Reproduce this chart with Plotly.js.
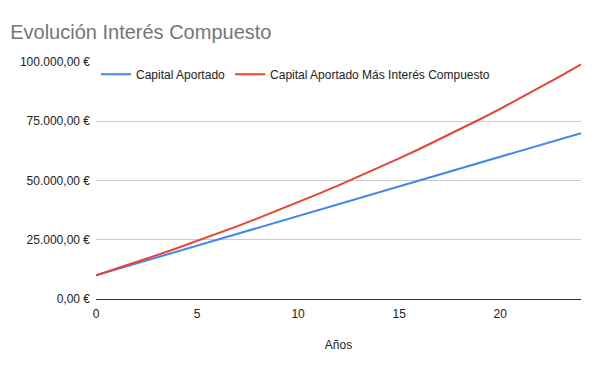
<!DOCTYPE html>
<html><head><meta charset="utf-8">
<script src="https://cdn.plot.ly/plotly-3.0.1.min.js"></script>
<style>html,body{margin:0;padding:0;background:#fff}#chart{width:600px;height:371px}</style>
</head><body><div id="chart"></div>
<script>
const years = [0,1,2,3,4,5,6,7,8,9,10,11,12,13,14,15,16,17,18,19,20,21,22,23,24];
const capitalAportado = [10000,12500,15000,17500,20000,22500,25000,27500,30000,32500,35000,37500,40000,42500,45000,47500,50000,52500,55000,57500,60000,62500,65000,67500,70000];
const capitalInteres = [10000,12750,15569,18458,21420,24455,27566,30755,34024,37375,40809,44329,47937,51635,55426,59312,63295,67377,71561,75850,80246,84752,89371,94105,98958];
const seriesNames = ["Capital Aportado","Capital Aportado Más Interés Compuesto"];
const xTicks = [0,5,10,15,20];
const yTicks = [0,25000,50000,75000,100000];
const yTickLabels = ["0,00 €","25.000,00 €","50.000,00 €","75.000,00 €","100.000,00 €"];

const traces = [
  {x: years, y: capitalAportado, name: seriesNames[0], type:'scatter', mode:'lines',
   line:{color:'#4285F4', width:2}},
  {x: years, y: capitalInteres, name: seriesNames[1], type:'scatter', mode:'lines',
   line:{color:'#EA4335', width:2}}
];
const font = "Arial, 'Liberation Sans', sans-serif";
const layout = {
  width:600, height:371,
  margin:{l:96, r:19, t:62, b:72},
  paper_bgcolor:'#fff', plot_bgcolor:'#fff',
  separators:',.',
  font:{family:font, size:12, color:'#222'},
  title:{text:'Evolución Interés Compuesto', x:0.017, xanchor:'left', y:0.915, yanchor:'middle',
         font:{family:font, size:20, color:'#757575'}},
  xaxis:{range:[0,24], tickvals:xTicks, ticktext:xTicks.map(String), showgrid:false, zeroline:false,
         showline:true, linecolor:'#333', linewidth:1, ticks:'', ticklen:0, ticklabelstandoff:4,
         tickfont:{size:12, color:'#222'},
         title:{text:'Años', font:{size:12, color:'#222'}, standoff:20}},
  yaxis:{range:[0,100000], tickvals:yTicks, ticktext:yTickLabels, showgrid:true,
         gridcolor:'#cccccc', gridwidth:1, zeroline:false, showline:false, ticks:'', ticklabelstandoff:5,
         tickfont:{size:12, color:'#222'}},
  showlegend:true,
  legend:{orientation:'h', x:0.0, xanchor:'left', y:1.01, yanchor:'top', bgcolor:'rgba(0,0,0,0)',
          font:{size:12, color:'#222'}, itemwidth:30, tracegroupgap:0}
};
Plotly.newPlot('chart', traces, layout, {displayModeBar:false, staticPlot:true});
</script></body></html>
